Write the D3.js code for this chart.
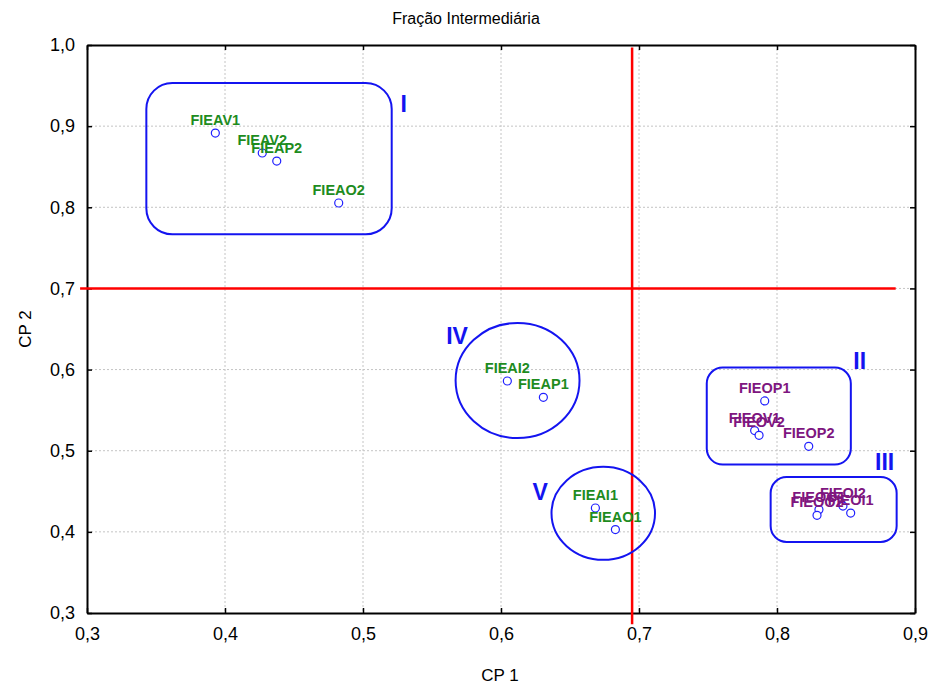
<!DOCTYPE html>
<html>
<head>
<meta charset="utf-8">
<script src="https://cdn.jsdelivr.net/npm/d3@7"></script>
<style>
  body { margin: 0; background: #fff; }
  svg { font-family: "Liberation Sans", Arial, sans-serif; }
</style>
</head>
<body>
<svg id="chart" width="933" height="684"></svg>
<script>
// sample scores on the first two components
const names = ["FIEAV1", "FIEAV2", "FIEAP2", "FIEAO2", "FIEAI2", "FIEAP1", "FIEAI1", "FIEAO1",
               "FIEOP1", "FIEOV1", "FIEOV2", "FIEOP2", "FIEOO1", "FIEOI2", "FIEOI1", "FIEOO2"];
const cp1 = [0.393, 0.427, 0.4375, 0.4824, 0.6046, 0.6307, 0.6684, 0.6829,
             0.7911, 0.7838, 0.787, 0.823, 0.8304, 0.8478, 0.8534, 0.829];
const cp2 = [0.8915, 0.8669, 0.857, 0.8053, 0.5859, 0.5658, 0.4294, 0.4028,
             0.5613, 0.5248, 0.519, 0.5054, 0.4274, 0.4318, 0.4232, 0.4204];
const fraction = ["A", "A", "A", "A", "A", "A", "A", "A",
                  "O", "O", "O", "O", "O", "O", "O", "O"];

const xTicks = [0.3, 0.4, 0.5, 0.6, 0.7, 0.8, 0.9];
const yTicks = [0.3, 0.4, 0.5, 0.6, 0.7, 0.8, 0.9, 1.0];

// reference lines (red)
const vLineX = 0.695, vLineY = [0.997, 0.286];
const hLineY = 0.7, hLineX = [0.295, 0.886];

// groups: rounded boxes and ellipses, in data units
const boxNames = ["I", "II", "III"];
const boxX = [[0.343, 0.5208], [0.7491, 0.8535], [0.7954, 0.8867]];
const boxY = [[0.7667, 0.9532], [0.4829, 0.6024], [0.3875, 0.4676]];
const boxLabel = [[0.5295, 0.917], [0.8599, 0.6003], [0.878, 0.4759]];

const ellNames = ["IV", "V"];
const ellCenter = [[0.612, 0.5865], [0.6741, 0.4229]];
const ellRadius = [[0.0449, 0.0709], [0.0375, 0.0573]];
const ellLabel = [[0.5682, 0.6311], [0.6284, 0.4389]];

const svg = d3.select("#chart");
const margin = { top: 45, right: 18, bottom: 71, left: 87 },
      width = 933 - margin.left - margin.right,
      height = 684 - margin.top - margin.bottom;

const x = d3.scaleLinear().domain([0.3, 0.9]).range([0, width]);
const y = d3.scaleLinear().domain([0.3, 1.0]).range([height, 0]);
const fmt = d => d.toFixed(1).replace(".", ",");

const g = svg.append("g").attr("transform", `translate(${margin.left},${margin.top})`);

// grid
g.append("g").selectAll("line").data(xTicks.slice(1, -1)).join("line")
  .attr("x1", d => x(d)).attr("x2", d => x(d)).attr("y1", 0).attr("y2", height)
  .attr("stroke", "#c4c4c4").attr("stroke-dasharray", "2,2");
g.append("g").selectAll("line").data(yTicks.slice(1, -1)).join("line")
  .attr("y1", d => y(d)).attr("y2", d => y(d)).attr("x1", 0).attr("x2", width)
  .attr("stroke", "#c4c4c4").attr("stroke-dasharray", "2,2");

// axes, ticks pointing in
const axB = g.append("g").attr("transform", `translate(0,${height})`)
  .call(d3.axisBottom(x).tickValues(xTicks).tickFormat(fmt).tickSizeInner(-5).tickSizeOuter(0).tickPadding(14));
const axL = g.append("g")
  .call(d3.axisLeft(y).tickValues(yTicks).tickFormat(fmt).tickSizeInner(-5).tickSizeOuter(0).tickPadding(12));
const axT = g.append("g")
  .call(d3.axisTop(x).tickValues(xTicks).tickFormat("").tickSizeInner(-5).tickSizeOuter(0));
const axR = g.append("g").attr("transform", `translate(${width},0)`)
  .call(d3.axisRight(y).tickValues(yTicks).tickFormat("").tickSizeInner(-5).tickSizeOuter(0));
[axB, axL, axT, axR].forEach(a => {
  a.select(".domain").attr("stroke", "#000").attr("stroke-width", 2);
  a.selectAll(".tick line").attr("stroke", "#000").attr("stroke-width", 1.5);
  a.selectAll("text").attr("font-size", 18).attr("fill", "#000")
    .attr("font-family", "'Liberation Sans', Arial, sans-serif");
});

// red reference lines
g.append("line")
  .attr("x1", x(vLineX)).attr("x2", x(vLineX)).attr("y1", y(vLineY[0])).attr("y2", y(vLineY[1]))
  .attr("stroke", "#ff0000").attr("stroke-width", 2.5);
g.append("line")
  .attr("x1", x(hLineX[0])).attr("x2", x(hLineX[1])).attr("y1", y(hLineY)).attr("y2", y(hLineY))
  .attr("stroke", "#ff0000").attr("stroke-width", 2.5);

// group outlines
const blue = "#1414f0";
g.append("g").selectAll("rect").data(boxNames).join("rect")
  .attr("x", (d, i) => x(boxX[i][0]))
  .attr("y", (d, i) => y(boxY[i][1]))
  .attr("width", (d, i) => x(boxX[i][1]) - x(boxX[i][0]))
  .attr("height", (d, i) => y(boxY[i][0]) - y(boxY[i][1]))
  .attr("rx", (d, i) => i === 0 ? 26 : 16)
  .attr("fill", "none").attr("stroke", blue).attr("stroke-width", 2);
g.append("g").selectAll("ellipse").data(ellNames).join("ellipse")
  .attr("cx", (d, i) => x(ellCenter[i][0]))
  .attr("cy", (d, i) => y(ellCenter[i][1]))
  .attr("rx", (d, i) => x(ellCenter[i][0] + ellRadius[i][0]) - x(ellCenter[i][0]))
  .attr("ry", (d, i) => y(ellCenter[i][1] - ellRadius[i][1]) - y(ellCenter[i][1]))
  .attr("fill", "none").attr("stroke", blue).attr("stroke-width", 2);

// group labels
const groupLabels = boxNames.map((n, i) => ({ n, p: boxLabel[i] }))
  .concat(ellNames.map((n, i) => ({ n, p: ellLabel[i] })));
g.append("g").selectAll("text").data(groupLabels).join("text")
  .attr("x", d => x(d.p[0])).attr("y", d => y(d.p[1]))
  .attr("text-anchor", "middle")
  .attr("font-size", 23).attr("font-weight", "bold").attr("fill", blue)
  .text(d => d.n);

// points
const pts = names.map((n, i) => ({ n, x: cp1[i], y: cp2[i], f: fraction[i] }));
g.append("g").selectAll("circle").data(pts).join("circle")
  .attr("cx", d => x(d.x)).attr("cy", d => y(d.y)).attr("r", 4)
  .attr("fill", "#fff").attr("stroke", "#2020ff").attr("stroke-width", 1.2);

g.append("g").selectAll("text").data(pts).join("text")
  .attr("x", d => x(d.x)).attr("y", d => y(d.y) - 8)
  .attr("text-anchor", "middle")
  .attr("font-size", 14.5).attr("font-weight", "bold")
  .attr("fill", d => d.f === "A" ? "#1e8c1e" : "#7e1680")
  .text(d => d.n);

// titles
svg.append("text").attr("x", 466).attr("y", 24).attr("text-anchor", "middle")
  .attr("font-size", 16).text("Fração Intermediária");
svg.append("text").attr("x", margin.left + width / 2 - 1).attr("y", 681).attr("text-anchor", "middle")
  .attr("font-size", 17).text("CP 1");
svg.append("text").attr("transform", `translate(31,${margin.top + height / 2}) rotate(-90)`)
  .attr("text-anchor", "middle").attr("font-size", 17).text("CP 2");
</script>
</body>
</html>
